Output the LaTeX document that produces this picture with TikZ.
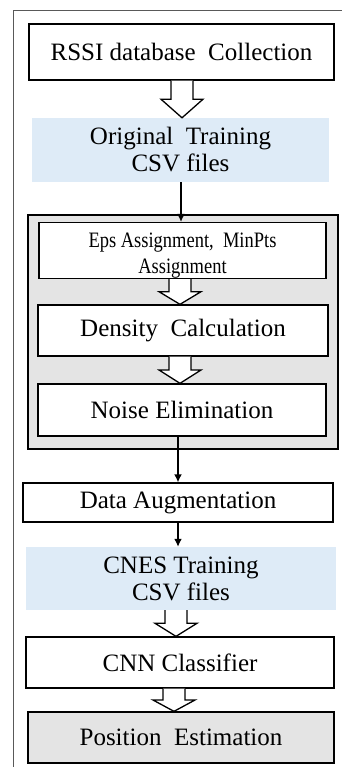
\documentclass[tikz,border=0pt]{standalone}
\usepackage{fontspec}
\setmainfont{Liberation Serif}
\newfontfamily\narrowserif[FakeStretch=0.84]{Liberation Serif}
\usepackage{tikz}
\usetikzlibrary{arrows.meta,calc}

\definecolor{csvblue}{RGB}{222,235,247}
\definecolor{stagegray}{RGB}{228,228,228}

\newcommand{\hollowarr}[3]{%
 \draw[hollow] let \p1=(#1.south), \p2=(#2.north), \n1={(\y1+\y2)/2} in
  (#3-11pt,\y1) -- (#3-11pt,\n1) -- (#3-21pt,\n1) -- (#3,\y2)
  -- (#3+21pt,\n1) -- (#3+11pt,\n1) -- (#3+11pt,\y1);}

\begin{document}
\begin{tikzpicture}[x=1pt,y=-1pt,
 box/.style={draw=black,line width=1.3pt,fill=white,inner sep=0pt,align=center,
  font=\fontsize{25}{27}\selectfont},
 csv/.style={fill=csvblue,inner sep=0pt,align=center,font=\fontsize{25}{27}\selectfont},
 hollow/.style={draw=black,line width=1.3pt,fill=white,line join=miter},
 flow/.style={draw=black,line width=1.6pt,-{Latex[length=8pt,width=8pt]}}]
 \useasboundingbox (0,0) rectangle (342,767);
 \draw[gray!70!black,line width=0.9pt] (13,767) -- (13,10) -- (342,10);

 \node[box,minimum width=305,minimum height=56] (rssi) at (181.5,52) {RSSI database\ \ Collection};
 \node[csv,minimum width=297,minimum height=64] (orig) at (180.5,150) {Original\ \ Training\\CSV files};

 % DBSCAN stage
 \node[draw=black,line width=1.3pt,fill=stagegray,minimum width=310,minimum height=234] (dbscan) at (183,332) {};
 \node[box,minimum width=287,minimum height=53,font=\narrowserif\fontsize{22}{26}\selectfont] (eps) at (182.5,250.5)
  {\rule{0pt}{25pt}Eps Assignment,\ \ MinPts\\Assignment};
 \node[box,minimum width=290,minimum height=51] (dens) at (183,330.5) {Density\ \ Calculation};
 \node[box,minimum width=288,minimum height=52] (noise) at (182,410) {Noise Elimination};

 \node[box,minimum width=310,minimum height=39] (aug) at (178,502.5) {Data Augmentation};
 \node[csv,minimum width=310,minimum height=63] (cnes) at (181,578.5) {CNES Training\\CSV files};
 \node[box,minimum width=308,minimum height=51] (cnn) at (180,662.5) {CNN Classifier};
 \node[box,fill=stagegray,minimum width=306,minimum height=51] (pos) at (181,737.5) {Position\ \ Estimation};

 \hollowarr{rssi}{orig}{182pt}
 \draw[flow] (orig.south -| 181,0) -- (eps.north -| 181,0);
 \hollowarr{eps}{dens}{180pt}
 \hollowarr{dens}{noise}{180pt}
 \draw[flow] (noise.south -| 178,0) -- (aug.north -| 178,0);
 \draw[flow] (aug.south -| 178,0) -- (cnes.north -| 178,0);
 \hollowarr{cnes}{cnn}{176pt}
 \hollowarr{cnn}{pos}{174pt}

\end{tikzpicture}
\end{document}
